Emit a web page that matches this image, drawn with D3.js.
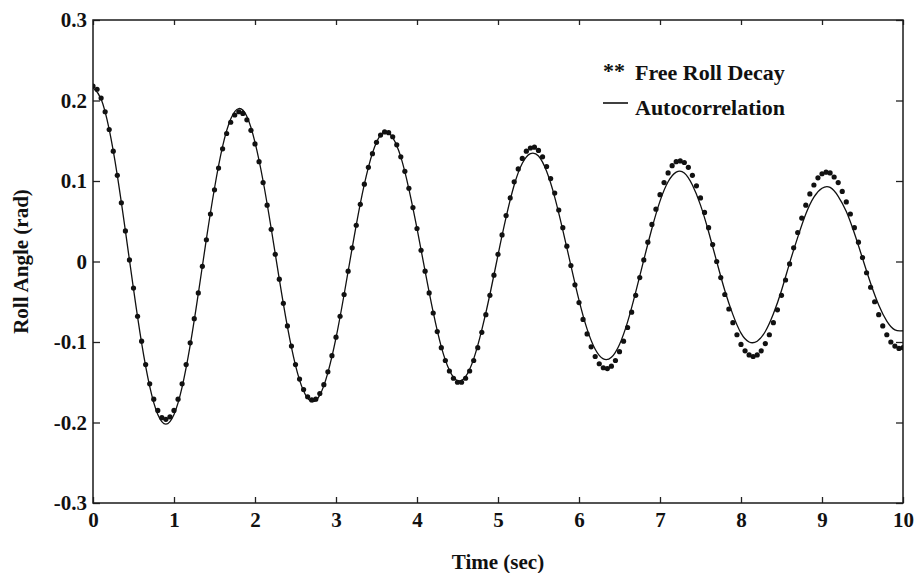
<!DOCTYPE html>
<html>
<head>
<meta charset="utf-8">
<script src="https://cdn.jsdelivr.net/npm/d3@7"></script>
<style>
  html, body { margin: 0; padding: 0; background: #fff; }
  svg { display: block; }
  text { font-family: "Liberation Serif", "Times New Roman", serif; fill: #111; }
</style>
</head>
<body>
<svg id="chart" width="915" height="573"></svg>
<script>
// Axis ticks
const xTicks = [0, 1, 2, 3, 4, 5, 6, 7, 8, 9, 10];
const yTicks = [-0.3, -0.2, -0.1, 0, 0.1, 0.2, 0.3];
const yTickLabels = ["-0.3", "-0.2", "-0.1", "0", "0.1", "0.2", "0.3"];

// Measured free roll decay (rad), sampled every 0.05 s from t = 0
const decayStep = 0.05;
const freeRollDecay = [
  0.218, 0.214, 0.203, 0.186, 0.164, 0.137, 0.107, 0.073, 0.038, 0.002,
  -0.033, -0.068, -0.099, -0.128, -0.152, -0.171, -0.185, -0.194, -0.196, -0.193,
  -0.185, -0.171, -0.152, -0.128, -0.101, -0.071, -0.039, -0.006, 0.027, 0.059,
  0.089, 0.116, 0.140, 0.159, 0.173, 0.182, 0.186, 0.184, 0.176, 0.163,
  0.146, 0.124, 0.098, 0.070, 0.040, 0.009, -0.022, -0.052, -0.080, -0.105,
  -0.128, -0.146, -0.159, -0.168, -0.172, -0.171, -0.164, -0.153, -0.137, -0.117,
  -0.094, -0.068, -0.041, -0.012, 0.017, 0.045, 0.071, 0.096, 0.117, 0.134,
  0.148, 0.157, 0.161, 0.160, 0.155, 0.145, 0.130, 0.112, 0.091, 0.067,
  0.041, 0.014, -0.012, -0.039, -0.064, -0.087, -0.107, -0.123, -0.136, -0.145,
  -0.150, -0.150, -0.145, -0.136, -0.123, -0.107, -0.088, -0.066, -0.042, -0.017,
  0.009, 0.033, 0.057, 0.079, 0.099, 0.115, 0.128, 0.137, 0.141, 0.142,
  0.138, 0.130, 0.118, 0.103, 0.085, 0.064, 0.042, 0.019, -0.005, -0.029,
  -0.051, -0.072, -0.090, -0.106, -0.118, -0.127, -0.132, -0.133, -0.130, -0.123,
  -0.112, -0.099, -0.082, -0.063, -0.042, -0.020, 0.002, 0.024, 0.046, 0.065,
  0.083, 0.098, 0.110, 0.119, 0.124, 0.125, 0.123, 0.117, 0.107, 0.094,
  0.079, 0.061, 0.042, 0.021, 0.000, -0.020, -0.041, -0.059, -0.076, -0.091,
  -0.103, -0.111, -0.116, -0.118, -0.116, -0.111, -0.102, -0.091, -0.076, -0.060,
  -0.042, -0.023, -0.003, 0.017, 0.036, 0.054, 0.070, 0.084, 0.095, 0.104,
  0.109, 0.111, 0.110, 0.105, 0.098, 0.087, 0.074, 0.059, 0.042, 0.024,
  0.005, -0.014, -0.032, -0.050, -0.066, -0.080, -0.091, -0.100, -0.105, -0.108,
  -0.107
];

// Autocorrelation estimate (rad), sampled every 0.1 s from t = 0
const autoStep = 0.1;
const autocorrelation = [
  0.216, 0.202, 0.164, 0.107, 0.038, -0.034, -0.101, -0.155, -0.190, -0.202,
  -0.190, -0.156, -0.104, -0.040, 0.028, 0.091, 0.143, 0.177, 0.190, 0.180,
  0.148, 0.100, 0.041, -0.022, -0.081, -0.129, -0.161, -0.174, -0.166, -0.138,
  -0.095, -0.041, 0.017, 0.072, 0.117, 0.148, 0.161, 0.154, 0.130, 0.090,
  0.041, -0.012, -0.063, -0.106, -0.135, -0.148, -0.143, -0.121, -0.085, -0.041,
  0.008, 0.055, 0.095, 0.122, 0.134, 0.131, 0.112, 0.080, 0.039, -0.005,
  -0.048, -0.084, -0.109, -0.121, -0.119, -0.103, -0.075, -0.038, 0.002, 0.041,
  0.075, 0.099, 0.111, 0.110, 0.095, 0.070, 0.037, 0.000, -0.036, -0.066,
  -0.089, -0.100, -0.099, -0.087, -0.065, -0.036, -0.002, 0.030, 0.059, 0.080,
  0.091, 0.092, 0.081, 0.062, 0.035, 0.004, -0.027, -0.054, -0.074, -0.085,
  -0.086
];

const legendItems = ["Free Roll Decay", "Autocorrelation"];

// Layout
const margin = { top: 20, right: 12, bottom: 70, left: 93 };
const W = 915, H = 573;
const innerW = W - margin.left - margin.right;
const innerH = H - margin.top - margin.bottom;

const svg = d3.select("#chart");
const g = svg.append("g").attr("transform", `translate(${margin.left},${margin.top})`);

const x = d3.scaleLinear().domain([0, 10]).range([0, innerW]);
const y = d3.scaleLinear().domain([-0.3, 0.3]).range([innerH, 0]);

const decayPts = freeRollDecay.map((v, i) => ({ t: i * decayStep, v }));
const autoPts = autocorrelation.map((v, i) => ({ t: i * autoStep, v }));

const tickFont = 21;

// Bottom axis with inward ticks
const axisBottomG = g.append("g")
  .attr("transform", `translate(0,${innerH})`)
  .call(d3.axisBottom(x).tickValues(xTicks).tickSize(-6).tickPadding(9)
    .tickFormat(d3.format("d")));
// Left axis with inward ticks
const axisLeftG = g.append("g")
  .call(d3.axisLeft(y).tickValues(yTicks).tickSize(-7).tickPadding(6)
    .tickFormat((d, i) => yTickLabels[i]));
// Top and right axes: ticks only
const axisTopG = g.append("g")
  .call(d3.axisTop(x).tickValues(xTicks).tickSize(-5).tickFormat(""));
const axisRightG = g.append("g")
  .attr("transform", `translate(${innerW},0)`)
  .call(d3.axisRight(y).tickValues(yTicks).tickSize(-7).tickFormat(""));

[axisBottomG, axisLeftG, axisTopG, axisRightG].forEach(a => {
  a.select(".domain").remove();
  a.selectAll(".tick line").attr("stroke", "#222").attr("stroke-width", 1.3);
  a.selectAll(".tick text")
    .attr("font-size", tickFont)
    .attr("font-weight", "bold")
    .attr("font-family", "'Liberation Serif', 'Times New Roman', serif")
    .attr("fill", "#111");
});

// Frame
g.append("rect")
  .attr("x", 0).attr("y", 0).attr("width", innerW).attr("height", innerH)
  .attr("fill", "none").attr("stroke", "#1a1a1a").attr("stroke-width", 1.5);

// Clip to plot area
svg.append("defs").append("clipPath").attr("id", "plotClip")
  .append("rect").attr("x", 0).attr("y", 0).attr("width", innerW).attr("height", innerH);

const plot = g.append("g").attr("clip-path", "url(#plotClip)");

// Autocorrelation curve
const line = d3.line().x(d => x(d.t)).y(d => y(d.v)).curve(d3.curveNatural);
plot.append("path")
  .datum(autoPts)
  .attr("d", line)
  .attr("fill", "none")
  .attr("stroke", "#111")
  .attr("stroke-width", 1.3);

// Free roll decay samples
plot.selectAll("circle.decay")
  .data(decayPts)
  .join("circle")
  .attr("class", "decay")
  .attr("cx", d => x(d.t))
  .attr("cy", d => y(d.v))
  .attr("r", 2.6)
  .attr("fill", "#111");

// Axis titles
svg.append("text")
  .attr("x", margin.left + innerW / 2)
  .attr("y", 569)
  .attr("text-anchor", "middle")
  .attr("font-size", 21)
  .attr("font-weight", "bold")
  .text("Time (sec)");

svg.append("text")
  .attr("transform", `translate(28,${margin.top + innerH / 2}) rotate(-90)`)
  .attr("text-anchor", "middle")
  .attr("font-size", 21)
  .attr("font-weight", "bold")
  .text("Roll Angle (rad)");

// Legend
const legend = svg.append("g").attr("transform", "translate(603,0)");
legend.append("text")
  .attr("x", 0).attr("y", 78)
  .attr("font-size", 22).attr("font-weight", "bold")
  .text("**");
legend.append("text")
  .attr("x", 32).attr("y", 80)
  .attr("font-size", 22).attr("font-weight", "bold")
  .text(legendItems[0]);
legend.append("line")
  .attr("x1", 0).attr("x2", 25).attr("y1", 103).attr("y2", 103)
  .attr("stroke", "#111").attr("stroke-width", 1.6);
legend.append("text")
  .attr("x", 32).attr("y", 115)
  .attr("font-size", 22).attr("font-weight", "bold")
  .text(legendItems[1]);
</script>
</body>
</html>
